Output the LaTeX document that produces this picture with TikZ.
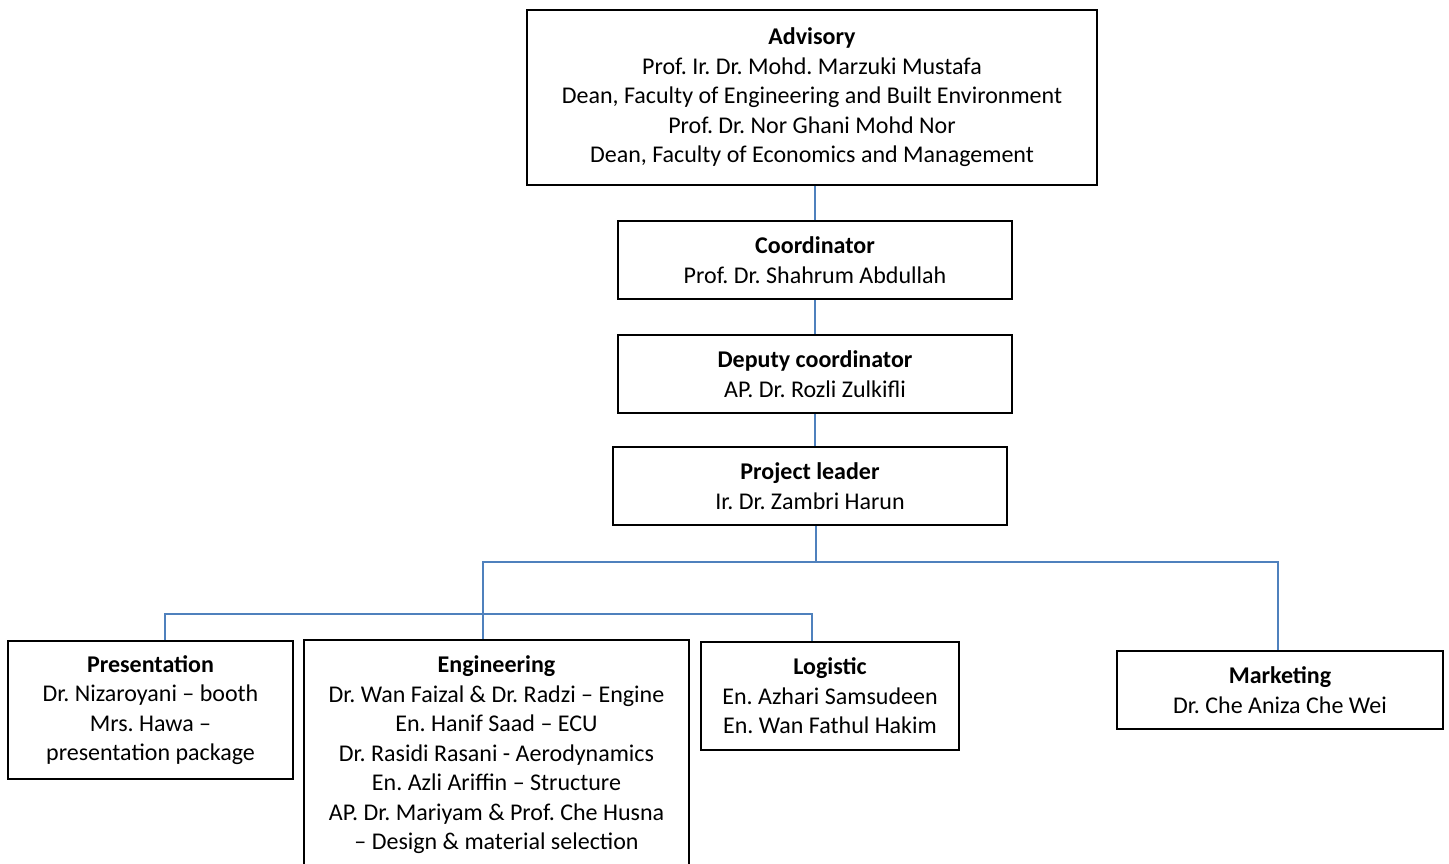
\documentclass[tikz,border=0pt]{standalone}
\usepackage{fontspec}
\setmainfont{Carlito}
\usepackage{tikz}
\usetikzlibrary{positioning}
\frenchspacing
\definecolor{linkblue}{RGB}{79,129,189}
\tikzstyle{box} = [rectangle, inner sep=0, align=center, draw=black, line width=1pt, font=\fontsize{12}{14.75}\selectfont]
\tikzstyle{link} = [draw=linkblue, line width=1pt]
\begin{document}
\begin{tikzpicture}[x=0.5pt, y=-0.5pt]
				\useasboundingbox (0,0) rectangle (1449,863);
				\node (advisory) [box, minimum width=285pt, minimum height=87.5pt] at (812,97.5) {\textbf{Advisory}\\Prof. Ir. Dr. Mohd. Marzuki Mustafa\\Dean, Faculty of Engineering and Built Environment\\Prof. Dr. Nor Ghani Mohd Nor\\Dean, Faculty of Economics and Management};
				\node (coordinator) [box, minimum width=197pt, minimum height=39pt] at (815,260) {\textbf{Coordinator}\\Prof. Dr. Shahrum Abdullah};
				\node (deputy_coordinator) [box, minimum width=197pt, minimum height=39pt] at (815,374) {\textbf{Deputy coordinator}\\AP. Dr. Rozli Zulkifli};
				\node (project_leader) [box, minimum width=197pt, minimum height=39pt] at (810,486) {\textbf{Project leader}\\Ir. Dr. Zambri Harun};
				\node (presentation) [box, minimum width=142.5pt, minimum height=69pt] at (150.5,710) {\textbf{Presentation}\\Dr. Nizaroyani -- booth\\Mrs. Hawa --\\presentation package};
				\node (engineering) [box, minimum width=192.5pt, minimum height=115pt] at (496.5,755) {\textbf{Engineering}\\Dr. Wan Faizal \& Dr. Radzi -- Engine\\En. Hanif Saad -- ECU\\Dr. Rasidi Rasani - Aerodynamics\\En. Azli Ariffin -- Structure\\AP. Dr. Mariyam \& Prof. Che Husna\\-- Design \& material selection};
				\node (logistic) [box, minimum width=129pt, minimum height=54pt] at (830,696) {\textbf{Logistic}\\En. Azhari Samsudeen\\En. Wan Fathul Hakim};
				\node (marketing) [box, minimum width=163pt, minimum height=39pt] at (1280,690) {\textbf{Marketing}\\Dr. Che Aniza Che Wei};
				\draw [link] (coordinator.north) -- (coordinator.north |- advisory.south);
				\draw [link] (coordinator.south) -- (coordinator.south |- deputy_coordinator.north);
				\draw [link] (deputy_coordinator.south) -- (deputy_coordinator.south |- project_leader.north);
				\coordinate (bus_top) at (816,562);
				\draw [link] (project_leader.south -| bus_top) -- (bus_top);
				\draw [link] (bus_top) -| ([xshift=-6.75pt]engineering.north);
				\draw [link] (bus_top) -| ([xshift=-1pt]marketing.north);
				\draw [link] ([xshift=7.25pt]presentation.north) |- ([xshift=-9pt,yshift=13.5pt]logistic.north) -- ([xshift=-9pt]logistic.north);
			\end{tikzpicture}
\end{document}
